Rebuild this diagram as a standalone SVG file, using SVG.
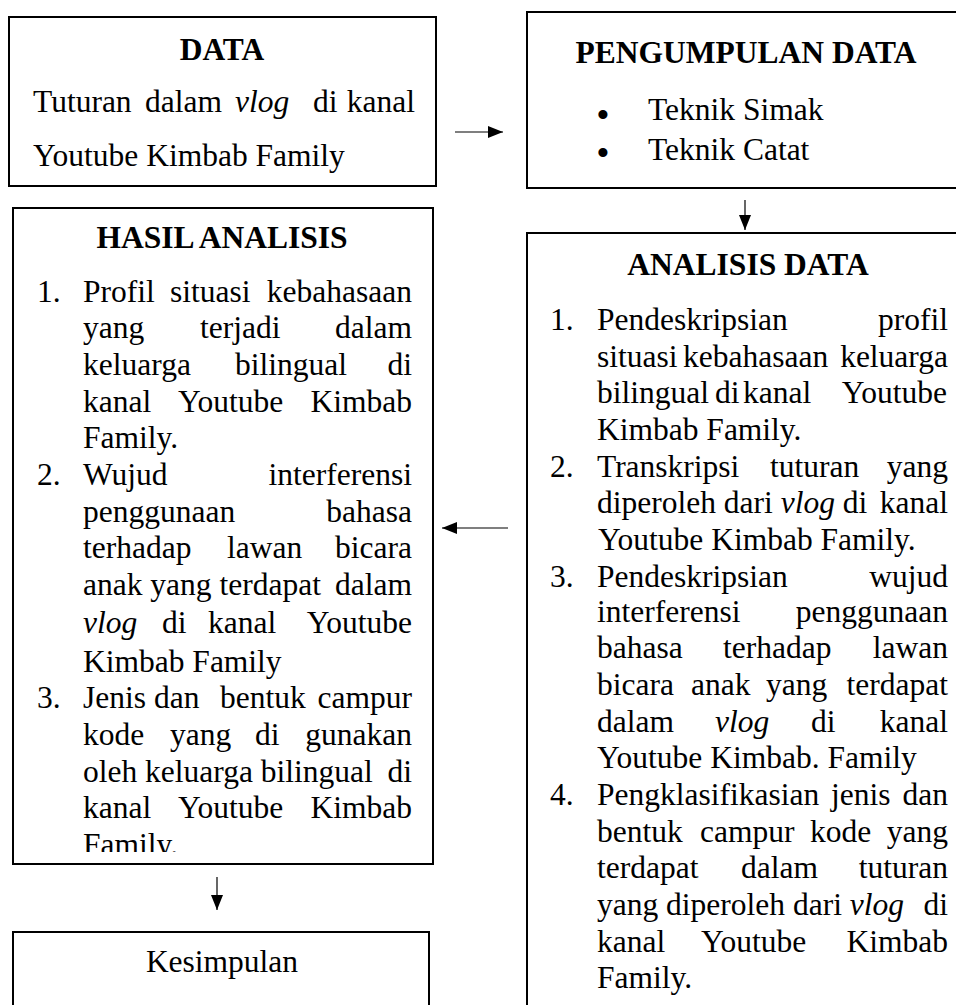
<svg xmlns="http://www.w3.org/2000/svg" width="956" height="1005" viewBox="0 0 956 1005">
<style>
.bg{fill:#fff}
.box{fill:#fff;stroke:#000;stroke-width:2}
.t{font-family:"Liberation Serif","Times New Roman",serif;font-size:31.5px;fill:#000}
.b{font-weight:bold}
.i{font-style:italic}
.m{text-anchor:middle}
.e{text-anchor:end}
.bul{font-size:38px}
.c{fill:none;stroke:#000;stroke-width:1.2}
</style>
<defs>
<marker id="ah" markerUnits="userSpaceOnUse" markerWidth="15" markerHeight="12" refX="15" refY="6" orient="auto">
<path d="M0,0 L15,6 L0,12 z" fill="#000"/>
</marker>
<clipPath id="hclip"><rect x="14" y="209" width="418" height="643"/></clipPath>
</defs>
<rect class="bg" x="0" y="0" width="956" height="1005"/>

<g id="connectors">
<line class="c" x1="455" y1="132" x2="503" y2="132" marker-end="url(#ah)"/>
<line class="c" x1="745" y1="200" x2="745" y2="230" marker-end="url(#ah)"/>
<line class="c" x1="508" y1="528" x2="442" y2="528" marker-end="url(#ah)"/>
<line class="c" x1="217" y1="877" x2="217" y2="910" marker-end="url(#ah)"/>
</g>

<g id="data">
<rect class="box" x="9" y="17" width="427" height="169"/>
<text class="t b m" x="222" y="60">DATA</text>
<text class="t" y="112"><tspan x="33">Tuturan</tspan><tspan x="145">dalam</tspan><tspan x="235" class="i">vlog</tspan><tspan x="313">di</tspan></text>
<text class="t e" x="415" y="112">kanal</text>
<text class="t" x="33" y="166">Youtube Kimbab Family</text>
</g>

<g id="pengumpulan">
<rect class="box" x="527" y="12" width="440" height="176"/>
<text class="t b m" x="746" y="63">PENGUMPULAN DATA</text>
<text class="t m bul"><tspan x="603" y="128">•</tspan><tspan x="603" y="166">•</tspan></text>
<text class="t" x="648" y="120">Teknik Simak</text>
<text class="t" x="648" y="160">Teknik Catat</text>
</g>

<g id="analisis">
<rect class="box" x="527" y="233" width="440" height="800"/>
<text class="t b m" x="748" y="275">ANALISIS DATA</text>
<text class="t" x="550" y="330">1.</text>
<text class="t" x="597" y="330">Pendeskripsian</text>
<text class="t e" x="948" y="330">profil</text>
<text class="t" y="367"><tspan x="597">situasi</tspan><tspan x="683">kebahasaan</tspan></text>
<text class="t e" x="948" y="367">keluarga</text>
<text class="t" y="403"><tspan x="597">bilingual</tspan><tspan x="715">di</tspan><tspan x="743">kanal</tspan></text>
<text class="t e" x="947" y="403">Youtube</text>
<text class="t" x="597" y="440">Kimbab Family.</text>
<text class="t" x="550" y="477">2.</text>
<text class="t" y="477"><tspan x="597">Transkripsi</tspan><tspan x="770">tuturan</tspan></text>
<text class="t e" x="948" y="477">yang</text>
<text class="t" y="513"><tspan x="597">diperoleh dari </tspan><tspan class="i">vlog</tspan><tspan> di</tspan></text>
<text class="t e" x="948" y="513">kanal</text>
<text class="t" x="598" y="550">Youtube Kimbab Family.</text>
<text class="t" x="550" y="587">3.</text>
<text class="t" x="597" y="587">Pendeskripsian</text>
<text class="t e" x="948" y="587">wujud</text>
<text class="t" x="597" y="622">interferensi</text>
<text class="t e" x="948" y="622">penggunaan</text>
<text class="t" y="658"><tspan x="597">bahasa</tspan><tspan x="723">terhadap</tspan></text>
<text class="t e" x="948" y="658">lawan</text>
<text class="t" y="695"><tspan x="597">bicara</tspan><tspan x="691">anak</tspan><tspan x="766">yang</tspan></text>
<text class="t e" x="948" y="695">terdapat</text>
<text class="t" y="732"><tspan x="597">dalam</tspan><tspan x="715" class="i">vlog</tspan><tspan x="811">di</tspan></text>
<text class="t e" x="948" y="732">kanal</text>
<text class="t" x="597" y="768">Youtube Kimbab. Family</text>
<text class="t" x="550" y="805">4.</text>
<text class="t" y="805"><tspan x="597">Pengklasifikasian</tspan><tspan x="831">jenis</tspan></text>
<text class="t e" x="948" y="805">dan</text>
<text class="t" y="842"><tspan x="597">bentuk</tspan><tspan x="700">campur</tspan><tspan x="810">kode</tspan></text>
<text class="t e" x="948" y="842">yang</text>
<text class="t" y="878"><tspan x="597">terdapat</tspan><tspan x="741">dalam</tspan></text>
<text class="t e" x="948" y="878">tuturan</text>
<text class="t" y="915"><tspan x="597">yang diperoleh dari </tspan><tspan class="i">vlog</tspan></text>
<text class="t e" x="948" y="915">di</text>
<text class="t" y="952"><tspan x="597">kanal</tspan><tspan x="701">Youtube</tspan></text>
<text class="t e" x="948" y="952">Kimbab</text>
<text class="t" x="597" y="988">Family.</text>
</g>

<g id="hasil">
<rect class="box" x="13" y="208" width="420" height="656"/>
<text class="t b m" x="222" y="248">HASIL ANALISIS</text>
<g clip-path="url(#hclip)">
<text class="t" x="37" y="302">1.</text>
<text class="t" y="302"><tspan x="83">Profil</tspan><tspan x="170">situasi</tspan></text>
<text class="t e" x="412" y="302">kebahasaan</text>
<text class="t" y="338"><tspan x="83">yang</tspan><tspan x="200">terjadi</tspan></text>
<text class="t e" x="412" y="338">dalam</text>
<text class="t" y="375"><tspan x="83">keluarga</tspan><tspan x="235">bilingual</tspan></text>
<text class="t e" x="412" y="375">di</text>
<text class="t" y="412"><tspan x="83">kanal</tspan><tspan x="178">Youtube</tspan></text>
<text class="t e" x="412" y="412">Kimbab</text>
<text class="t" x="83" y="448">Family.</text>
<text class="t" x="37" y="485">2.</text>
<text class="t" x="83" y="485">Wujud</text>
<text class="t e" x="412" y="485">interferensi</text>
<text class="t" x="83" y="522">penggunaan</text>
<text class="t e" x="412" y="522">bahasa</text>
<text class="t" y="558"><tspan x="83">terhadap</tspan><tspan x="227">lawan</tspan></text>
<text class="t e" x="412" y="558">bicara</text>
<text class="t" x="83" y="595">anak yang terdapat</text>
<text class="t e" x="412" y="595">dalam</text>
<text class="t" y="633"><tspan x="83" class="i">vlog</tspan><tspan x="162">di</tspan><tspan x="208">kanal</tspan></text>
<text class="t e" x="412" y="633">Youtube</text>
<text class="t" x="83" y="672">Kimbab Family</text>
<text class="t" x="37" y="708">3.</text>
<text class="t" y="708"><tspan x="83">Jenis</tspan><tspan x="154">dan</tspan><tspan x="220">bentuk</tspan></text>
<text class="t e" x="412" y="708">campur</text>
<text class="t" y="745"><tspan x="83">kode</tspan><tspan x="170">yang</tspan><tspan x="255">di</tspan></text>
<text class="t e" x="412" y="745">gunakan</text>
<text class="t" y="782"><tspan x="83">oleh keluarga bilingual</tspan></text>
<text class="t e" x="412" y="782">di</text>
<text class="t" y="818"><tspan x="83">kanal</tspan><tspan x="178">Youtube</tspan></text>
<text class="t e" x="412" y="818">Kimbab</text>
<text class="t" x="83" y="855">Family.</text>
</g>
</g>

<g id="kesimpulan">
<rect class="box" x="13" y="932" width="416" height="100"/>
<text class="t m" x="222" y="972">Kesimpulan</text>
</g>
</svg>
